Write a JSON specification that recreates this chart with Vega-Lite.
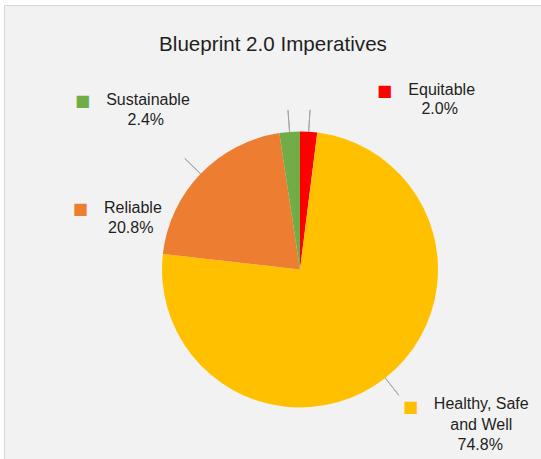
{
  "$schema": "https://vega.github.io/schema/vega-lite/v6.json",
  "width": 592,
  "height": 529,
  "autosize": {"type": "none"},
  "padding": {"left": 4, "top": 5, "right": 0, "bottom": 0},
  "background": "#ffffff",
  "config": {
    "view": {"fill": "#f2f2f2", "stroke": "#d9d9d9", "strokeWidth": 1},
    "style": {"view": {"fill": "#f2f2f2", "stroke": "#d9d9d9", "strokeWidth": 1}},
    "font": "Liberation Sans"
  },
  "title": {
    "text": "Blueprint 2.0 Imperatives",
    "font": "Liberation Sans",
    "fontSize": 20.6,
    "fontWeight": "normal",
    "color": "#1f1f1f",
    "anchor": "middle",
    "dx": -27,
    "offset": -67,
    "baseline": "alphabetic"
  },
  "data": {
    "values": [
      {"name": "Equitable", "share": 0.020},
      {"name": "Healthy, Safe\nand Well", "share": 0.748},
      {"name": "Reliable", "share": 0.208},
      {"name": "Sustainable", "share": 0.024}
    ]
  },
  "encoding": {
    "theta": {"field": "share", "type": "quantitative", "stack": true},
    "order": {"field": "name", "type": "ordinal", "sort": "ascending"}
  },
  "layer": [
    {
      "mark": {"type": "arc", "radius": 138},
      "encoding": {
        "color": {
          "field": "name",
          "type": "nominal",
          "legend": null,
          "scale": {
            "domain": ["Equitable", "Healthy, Safe\nand Well", "Reliable", "Sustainable"],
            "range": ["#ff0000", "#ffc000", "#ed7d31", "#70ad47"]
          }
        }
      }
    },
    {
      "transform": [
        {"stack": "share", "groupby": [], "sort": [{"field": "name", "order": "ascending"}], "as": ["lead_start", "lead_end"]}
      ],
      "mark": {
        "type": "arc",
        "radius": 160,
        "radius2": 138,
        "thetaOffset": {"expr": "datum.share * PI"},
        "theta2Offset": {"expr": "-datum.share * PI"},
        "filled": false,
        "color": "#a6a6a6",
        "strokeWidth": 1
      },
      "encoding": {
        "theta": {"field": "lead_start", "type": "quantitative", "stack": null},
        "theta2": {"field": "lead_end"}
      }
    },
    {
      "mark": {"type": "text", "radius": 138, "fontSize": 16, "color": "#1f1f1f", "align": "center", "baseline": "alphabetic", "dx": 133, "dy": -37},
      "encoding": {"detail": {"field": "name"}, "text": {"condition": {"test": "datum.name === 'Equitable'", "field": "name"}, "value": ""}}
    },
    {
      "mark": {"type": "text", "radius": 138, "fontSize": 16, "color": "#1f1f1f", "align": "center", "baseline": "alphabetic", "dx": 131, "dy": -17.5},
      "encoding": {"detail": {"field": "name"}, "text": {"condition": {"test": "datum.name === 'Equitable'", "field": "share", "format": ".1%"}, "value": ""}}
    },
    {
      "mark": {"type": "text", "radius": 138, "font": "DejaVu Sans", "fontSize": 16, "color": "#ff0000", "align": "center", "baseline": "middle", "dx": 76, "dy": -41},
      "encoding": {"detail": {"field": "name"}, "text": {"condition": {"test": "datum.name === 'Equitable'", "value": "■"}, "value": ""}}
    },
    {
      "mark": {"type": "text", "radius": 138, "fontSize": 16, "color": "#1f1f1f", "align": "center", "baseline": "alphabetic", "lineBreak": "\n", "lineHeight": 20.5, "dx": 96, "dy": 31.3},
      "encoding": {"detail": {"field": "name"}, "text": {"condition": {"test": "datum.name === 'Healthy, Safe\\nand Well'", "field": "name"}, "value": ""}}
    },
    {
      "mark": {"type": "text", "radius": 138, "fontSize": 16, "color": "#1f1f1f", "align": "center", "baseline": "alphabetic", "dx": 95, "dy": 72},
      "encoding": {"detail": {"field": "name"}, "text": {"condition": {"test": "datum.name === 'Healthy, Safe\\nand Well'", "field": "share", "format": ".1%"}, "value": ""}}
    },
    {
      "mark": {"type": "text", "radius": 138, "font": "DejaVu Sans", "fontSize": 16, "color": "#ffc000", "align": "center", "baseline": "middle", "dx": 25.2, "dy": 29},
      "encoding": {"detail": {"field": "name"}, "text": {"condition": {"test": "datum.name === 'Healthy, Safe\\nand Well'", "value": "■"}, "value": ""}}
    },
    {
      "mark": {"type": "text", "radius": 138, "fontSize": 16, "color": "#1f1f1f", "align": "center", "baseline": "alphabetic", "dx": -67.7, "dy": 39.6},
      "encoding": {"detail": {"field": "name"}, "text": {"condition": {"test": "datum.name === 'Reliable'", "field": "name"}, "value": ""}}
    },
    {
      "mark": {"type": "text", "radius": 138, "fontSize": 16, "color": "#1f1f1f", "align": "center", "baseline": "alphabetic", "dx": -69.9, "dy": 59},
      "encoding": {"detail": {"field": "name"}, "text": {"condition": {"test": "datum.name === 'Reliable'", "field": "share", "format": ".1%"}, "value": ""}}
    },
    {
      "mark": {"type": "text", "radius": 138, "font": "DejaVu Sans", "fontSize": 16, "color": "#ed7d31", "align": "center", "baseline": "middle", "dx": -120.4, "dy": 35.3},
      "encoding": {"detail": {"field": "name"}, "text": {"condition": {"test": "datum.name === 'Reliable'", "value": "■"}, "value": ""}}
    },
    {
      "mark": {"type": "text", "radius": 138, "fontSize": 16, "color": "#1f1f1f", "align": "center", "baseline": "alphabetic", "dx": -141.6, "dy": -26.9},
      "encoding": {"detail": {"field": "name"}, "text": {"condition": {"test": "datum.name === 'Sustainable'", "field": "name"}, "value": ""}}
    },
    {
      "mark": {"type": "text", "radius": 138, "fontSize": 16, "color": "#1f1f1f", "align": "center", "baseline": "alphabetic", "dx": -143.8, "dy": -6.9},
      "encoding": {"detail": {"field": "name"}, "text": {"condition": {"test": "datum.name === 'Sustainable'", "field": "share", "format": ".1%"}, "value": ""}}
    },
    {
      "mark": {"type": "text", "radius": 138, "font": "DejaVu Sans", "fontSize": 16, "color": "#70ad47", "align": "center", "baseline": "middle", "dx": -207.1, "dy": -30.9},
      "encoding": {"detail": {"field": "name"}, "text": {"condition": {"test": "datum.name === 'Sustainable'", "value": "■"}, "value": ""}}
    }
  ]
}
